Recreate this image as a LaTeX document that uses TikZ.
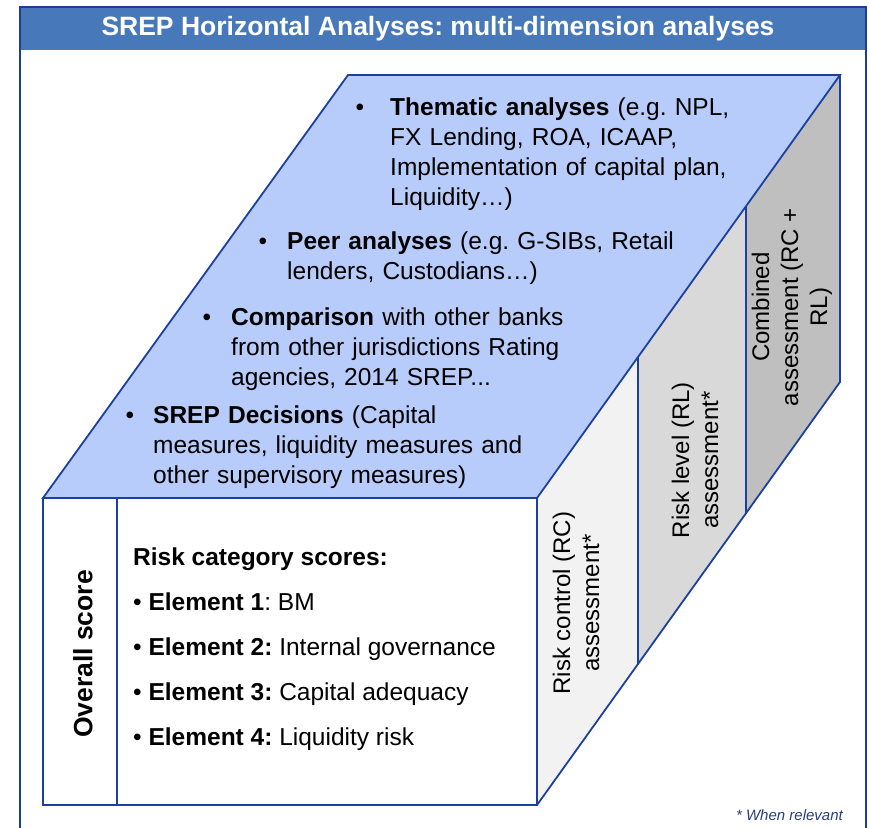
\documentclass[tikz,border=0pt]{standalone}
\usepackage{fontspec}
\setmainfont{Liberation Sans}
\frenchspacing
\definecolor{edgeblue}{RGB}{28,64,160}
\definecolor{frameblue}{RGB}{30,62,150}
\definecolor{headblue}{RGB}{70,120,186}
\definecolor{topblue}{RGB}{183,204,250}
\definecolor{rcgray}{RGB}{242,242,242}
\definecolor{rlgray}{RGB}{217,217,217}
\definecolor{cbgray}{RGB}{191,191,191}
\definecolor{notecol}{RGB}{40,60,130}
\begin{document}
\begin{tikzpicture}[x=1pt,y=-1pt,
  edge/.style={draw=edgeblue,line width=1.8pt,line join=miter},
  txt/.style={font=\fontsize{24.5}{30}\selectfont,inner sep=0pt,anchor=base west,align=left},
  bul/.style={font=\fontsize{24.5}{30}\selectfont,inner sep=0pt,anchor=base},
  elem/.style={font=\fontsize{24.5}{30}\selectfont,inner sep=0pt,anchor=base west},
  side/.style={font=\fontsize{24}{29}\selectfont,inner sep=0pt,rotate=90,align=center},
]
\useasboundingbox (0,0) rectangle (869,827);
\clip (0,0) rectangle (869,827);
% frame and header
\fill[headblue] (20,7) rectangle (866,50);
\draw[frameblue,line width=2pt] (20,860) -- (20,7) -- (866,7) -- (866,860);
\node[font=\bfseries\fontsize{26.5}{30}\selectfont,text=white,inner sep=0pt] (title) at (438,28.5) {SREP Horizontal Analyses: multi-dimension analyses};
% cube corners
\coordinate (A) at (43,498);
\coordinate (B) at (537,498);
\coordinate (C) at (840,75);
\coordinate (D) at (348,75);
\coordinate (E) at (43,805);
\coordinate (F) at (537,805);
\coordinate (G) at (840,382);
\coordinate (P1t) at (638,357);
\coordinate (P1b) at (638,664);
\coordinate (P2t) at (746,206);
\coordinate (P2b) at (746,513);
\coordinate (Dt) at (117,498);
\coordinate (Db) at (117,805);
% side faces
\fill[rcgray] (B) -- (P1t) -- (P1b) -- (F) -- cycle;
\fill[rlgray] (P1t) -- (P2t) -- (P2b) -- (P1b) -- cycle;
\fill[cbgray] (P2t) -- (C) -- (G) -- (P2b) -- cycle;
\draw[edge] (C) -- (G) -- (F);
\draw[edge] (P1t) -- (P1b);
\draw[edge] (P2t) -- (P2b);
% top face
\filldraw[edge,fill=topblue] (A) -- (B) -- (C) -- (D) -- cycle;
% front face
\filldraw[edge,fill=white] (A) rectangle (F);
\draw[edge] (Dt) -- (Db);
% top face text
\node[bul] (b1) at (360,115) {\textbullet};
\node[txt,text width=350pt] (t1) at (390,115) {\textbf{Thematic analyses} (e.g. NPL,\\FX Lending, ROA, ICAAP,\\Implementation of capital plan,\\Liquidity…)};
\node[bul] (b2) at (263,249) {\textbullet};
\node[txt,text width=400pt] (t2) at (287,249) {\textbf{Peer analyses} (e.g. G-SIBs, Retail\\lenders, Custodians…)};
\node[bul] (b3) at (207,325) {\textbullet};
\node[txt,text width=350pt] (t3) at (231,325) {\textbf{Comparison} with other banks\\from other jurisdictions Rating\\agencies, 2014 SREP...};
\node[bul] (b4) at (130,423) {\textbullet};
\node[txt,text width=380pt] (t4) at (153,423) {\textbf{SREP Decisions} (Capital\\measures, liquidity measures and\\other supervisory measures)};
% front face text
\node[font=\bfseries\fontsize{26.5}{30}\selectfont,rotate=90,inner sep=0pt] (ov) at (83,654) {Overall score};
\node[elem,font=\bfseries\fontsize{24.5}{30}\selectfont] (rcs) at (133,565) {Risk category scores:};
\node[elem] (e1) at (133,610) {\textbullet\ \textbf{Element 1}: BM};
\node[elem] (e2) at (133,655) {\textbullet\ \textbf{Element 2:} Internal governance};
\node[elem] (e3) at (133,700) {\textbullet\ \textbf{Element 3:} Capital adequacy};
\node[elem] (e4) at (133,745) {\textbullet\ \textbf{Element 4:} Liquidity risk};
% side texts
\node[side] (rc) at (576,603) {Risk control (RC)\\assessment*};
\node[side] (rl) at (695,460) {Risk level (RL)\\assessment*};
\node[side] (cb) at (792,307) {Combined\\assessment (RC +\\RL)};
% footnote
\node[font=\itshape\fontsize{15}{18}\selectfont,text=notecol,anchor=base east,inner sep=0pt] (note) at (843,820) {* When relevant};
\end{tikzpicture}
\end{document}
